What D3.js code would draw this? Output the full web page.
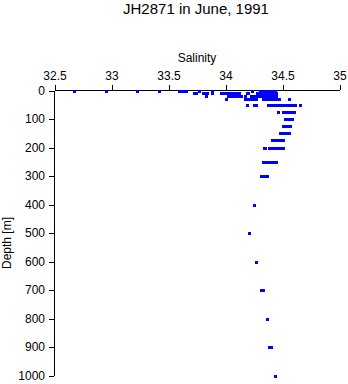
<!DOCTYPE html>
<html>
<head>
<meta charset="utf-8">
<script src="https://cdn.jsdelivr.net/npm/d3@7"></script>
<style>
  html, body { margin: 0; padding: 0; background: #fff; }
  svg { display: block; }
  text { font-family: "Liberation Sans", Arial, sans-serif; fill: #000; }
</style>
</head>
<body>
<script>
// ---- data ----
const title = "JH2871 in June, 1991";
const xLabel = "Salinity";
const yLabel = "Depth [m]";
const xTickValues = [32.5, 33, 33.5, 34, 34.5, 35];
const xTickLabels = ["32.5", "33", "33.5", "34", "34.5", "35"];
const yTickValues = [0, 100, 200, 300, 400, 500, 600, 700, 800, 900, 1000];
const yTickLabels = ["0", "100", "200", "300", "400", "500", "600", "700", "800", "900", "1000"];

// standard depths (m) and the salinity observations at each depth
const depths = [0, 10, 20, 30, 50, 75, 100, 125, 150, 175, 200, 250, 300, 400, 500, 600, 700, 800, 900, 1000];
const salinities = [
  [32.67, 32.95, 33.22, 33.42, 33.59, 33.61, 33.63, 33.65, 33.77, 33.88, 34.23, 34.30, 34.32, 34.34, 34.36, 34.38, 34.40, 34.42, 34.43],
  [33.72, 33.74, 33.80, 33.82, 33.84, 33.88, 33.96, 33.98, 34.00, 34.02, 34.04, 34.06, 34.08, 34.10, 34.12, 34.19, 34.20, 34.28, 34.30, 34.32, 34.34, 34.36, 34.38, 34.40, 34.42, 34.44],
  [33.83, 34.02, 34.04, 34.06, 34.08, 34.10, 34.12, 34.14, 34.17, 34.22, 34.24, 34.26, 34.28, 34.30, 34.32, 34.34, 34.36, 34.38, 34.40, 34.42, 34.44],
  [34.00, 34.17, 34.19, 34.21, 34.23, 34.25, 34.27, 34.33, 34.35, 34.37, 34.39, 34.41, 34.43, 34.45, 34.47, 34.56],
  [34.19, 34.25, 34.27, 34.37, 34.39, 34.41, 34.43, 34.45, 34.47, 34.49, 34.51, 34.53, 34.55, 34.57, 34.59, 34.61, 34.65],
  [34.46, 34.50, 34.52, 34.54, 34.56, 34.58, 34.60],
  [34.52, 34.54, 34.56, 34.58],
  [34.50, 34.52, 34.54, 34.56, 34.57],
  [34.48, 34.50, 34.52, 34.54, 34.56],
  [34.41, 34.43, 34.45, 34.47, 34.49, 34.50],
  [34.34, 34.35, 34.38, 34.40, 34.42, 34.44, 34.46, 34.48, 34.50],
  [34.33, 34.35, 34.37, 34.39, 34.41, 34.43, 34.44],
  [34.31, 34.33, 34.35, 34.36],
  [34.25],
  [34.21],
  [34.27],
  [34.31, 34.33],
  [34.36],
  [34.38, 34.40],
  [34.43]
];

const points = [];
depths.forEach((d, i) => salinities[i].forEach(s => points.push({ d, s })));

// ---- chart ----
const W = 348, H = 384;
const svg = d3.select("body").append("svg").attr("width", W).attr("height", H);

const x = d3.scaleLinear().domain([32.5, 35]).range([54.5, 339.5]);
const y = d3.scaleLinear().domain([0, 1000]).range([90.5, 375.5]);

svg.append("text").attr("x", 196).attr("y", 14).attr("text-anchor", "middle")
  .style("font-size", "15px").text(title);

svg.append("text").attr("x", 197).attr("y", 62).attr("text-anchor", "middle")
  .style("font-size", "12px").text(xLabel);

svg.append("text").attr("transform", "translate(11,243) rotate(-90)").attr("text-anchor", "middle")
  .style("font-size", "12px").text(yLabel);

const xAxis = d3.axisTop(x).tickValues(xTickValues)
  .tickFormat((d, i) => xTickLabels[i]).tickSize(5).tickSizeOuter(0).tickPadding(5);
const gx = svg.append("g").attr("transform", "translate(0,90)").call(xAxis);

const yAxis = d3.axisLeft(y).tickValues(yTickValues)
  .tickFormat((d, i) => yTickLabels[i]).tickSize(5).tickSizeOuter(0).tickPadding(4);
const gy = svg.append("g").attr("transform", "translate(54,0)").call(yAxis);

[gx, gy].forEach(g => {
  g.attr("font-family", null).attr("font-size", null);
  g.selectAll("text").style("font-size", "12px").style("font-family", '"Liberation Sans", Arial, sans-serif').attr("fill", "#000");
  g.selectAll("line,path").attr("stroke", "#000").attr("shape-rendering", "crispEdges");
});

svg.append("g").selectAll("rect").data(points).join("rect")
  .attr("x", p => Math.round(x(p.s)) - 1.5)
  .attr("y", p => Math.round(y(p.d)) - 1.5)
  .attr("width", 3).attr("height", 3)
  .attr("fill", "#0000ff").attr("shape-rendering", "crispEdges");
</script>
</body>
</html>
